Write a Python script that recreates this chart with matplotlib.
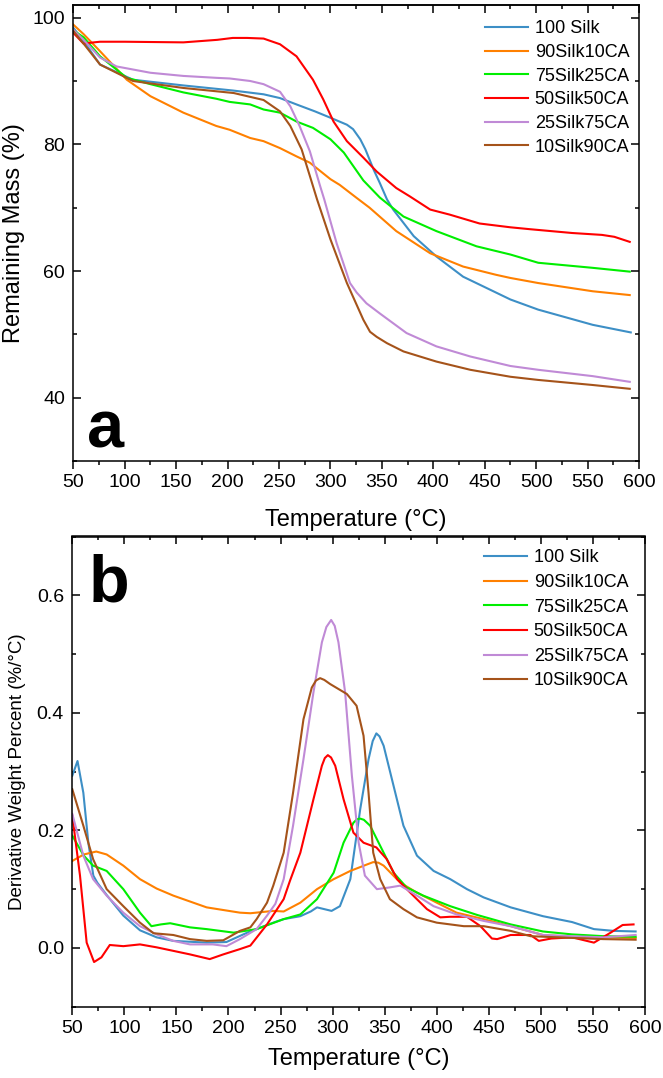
import matplotlib
matplotlib.use("Agg")
import matplotlib.pyplot as plt
from matplotlib.ticker import MultipleLocator
from matplotlib import font_manager

plt.rcParams['font.family'] = ['Liberation Sans', 'DejaVu Sans']

labels = ["100 Silk", "90Silk10CA", "75Silk25CA", "50Silk50CA", "25Silk75CA", "10Silk90CA"]
colors = ["#3d8fc6", "#ff8000", "#00ee00", "#ff0000", "#c08ad6", "#a5531a"]

# ---------------- panel a: TGA (remaining mass, %) ----------------
tga_T_silk = [50, 60, 76, 108, 157, 205, 235, 251, 267, 285, 300, 316, 322, 329, 334, 338, 342, 348, 355, 361, 381, 403, 429, 452, 475, 502, 555, 592]
tga_silk = [98.4, 96.3, 92.6, 90.2, 89.3, 88.5, 87.9, 87.3, 86.3, 85.2, 84.2, 83.1, 82.4, 80.8, 79.2, 77.6, 76.0, 73.9, 71.3, 69.7, 65.5, 62.3, 59.1, 57.3, 55.5, 53.9, 51.5, 50.3]

tga_T_90 = [50, 60, 76, 102, 125, 157, 189, 202, 222, 235, 251, 267, 280, 300, 309, 325, 338, 364, 397, 429, 461, 475, 502, 555, 591]
tga_90 = [98.9, 97.4, 94.7, 90.2, 87.6, 85.0, 82.9, 82.3, 81.0, 80.5, 79.4, 78.1, 77.1, 74.5, 73.6, 71.6, 70.0, 66.3, 62.8, 60.7, 59.4, 58.9, 58.1, 56.8, 56.2]

tga_T_75 = [50, 60, 76, 102, 125, 157, 189, 202, 222, 235, 251, 267, 283, 300, 313, 332, 348, 371, 403, 442, 475, 502, 555, 591]
tga_75 = [98.0, 96.9, 93.9, 90.5, 89.5, 88.2, 87.2, 86.7, 86.3, 85.5, 85.0, 83.6, 82.6, 80.8, 78.7, 74.3, 71.6, 68.6, 66.3, 63.9, 62.6, 61.3, 60.5, 59.9]

tga_T_50 = [50, 60, 70, 76, 100, 157, 190, 205, 219, 235, 251, 267, 283, 293, 303, 316, 332, 345, 364, 377, 397, 416, 445, 475, 494, 535, 564, 576, 591]
tga_50 = [97.6, 95.9, 96.1, 96.2, 96.2, 96.1, 96.5, 96.8, 96.8, 96.7, 95.8, 93.9, 90.2, 87.1, 83.6, 80.5, 77.9, 75.7, 73.1, 71.8, 69.7, 68.9, 67.5, 66.9, 66.6, 66.0, 65.7, 65.4, 64.6]

tga_T_25 = [50, 60, 76, 92, 125, 157, 189, 202, 222, 235, 251, 261, 270, 280, 290, 294, 306, 319, 325.5, 335, 348, 374, 403, 436, 475, 502, 555, 591]
tga_25 = [98.1, 96.5, 93.7, 92.3, 91.3, 90.8, 90.5, 90.4, 90.0, 89.5, 88.3, 86.0, 82.9, 78.9, 73.4, 71.3, 64.4, 58.1, 56.6, 54.9, 53.3, 50.2, 48.1, 46.5, 45.0, 44.4, 43.4, 42.5]

tga_T_10 = [50, 60, 76, 108, 157, 206, 235, 251, 261, 272, 280, 287, 300, 316, 332, 338.5, 345, 355, 371, 403, 436, 475, 502, 555, 591]
tga_10 = [97.9, 95.9, 92.6, 90.0, 88.9, 88.1, 87.0, 85.2, 82.9, 79.2, 75.0, 71.3, 65.0, 58.1, 52.3, 50.4, 49.6, 48.6, 47.3, 45.7, 44.4, 43.3, 42.8, 42.0, 41.4]

# ---------------- panel b: DTG (%/°C) ----------------
dtg_T_silk = [50, 55, 60.6, 65.4, 70.2, 74, 83, 99, 115, 131, 147, 179, 198, 218, 243, 253, 269, 279, 285, 292, 299, 307, 317, 326.5, 334.5, 338.5, 342, 345, 349, 358.5, 368, 381, 397, 413, 429, 445, 471, 502, 530, 551, 570, 591]
dtg_silk = [0.293, 0.318, 0.264, 0.179, 0.123, 0.111, 0.090, 0.055, 0.030, 0.018, 0.012, 0.009, 0.010, 0.026, 0.043, 0.049, 0.054, 0.062, 0.069, 0.066, 0.063, 0.071, 0.117, 0.236, 0.321, 0.352, 0.365, 0.360, 0.344, 0.276, 0.208, 0.157, 0.131, 0.117, 0.100, 0.086, 0.069, 0.054, 0.044, 0.032, 0.029, 0.028]

dtg_T_90 = [50, 61, 73, 83, 99, 115, 131, 147, 179, 211, 221, 243, 253, 269, 285, 301, 317, 333, 339, 344, 349, 365, 381, 400, 419, 445, 471, 502, 530, 560, 591]
dtg_90 = [0.148, 0.159, 0.164, 0.159, 0.140, 0.117, 0.101, 0.089, 0.069, 0.060, 0.059, 0.063, 0.062, 0.077, 0.100, 0.117, 0.131, 0.142, 0.146, 0.145, 0.140, 0.111, 0.094, 0.077, 0.060, 0.049, 0.037, 0.022, 0.019, 0.018, 0.017]

dtg_T_75 = [50, 61, 70, 83, 99, 115, 126, 135, 144, 163, 179, 205, 227, 253, 269, 285, 301, 310.5, 320, 323.5, 326.5, 330, 336, 349, 358.5, 371, 387, 413, 439, 471, 502, 530, 560, 591]
dtg_75 = [0.191, 0.157, 0.140, 0.131, 0.100, 0.060, 0.037, 0.040, 0.042, 0.035, 0.032, 0.026, 0.032, 0.049, 0.057, 0.083, 0.128, 0.179, 0.213, 0.219, 0.220, 0.218, 0.208, 0.162, 0.128, 0.103, 0.089, 0.071, 0.056, 0.040, 0.028, 0.023, 0.020, 0.019]

dtg_T_50 = [50, 57.4, 63.8, 70.9, 78, 86, 99, 115, 131, 147, 163, 182, 195, 211, 221, 237, 253, 259, 269, 281.6, 289.7, 292.5, 295.4, 298.5, 302.5, 310.5, 320, 329.7, 342, 352, 362, 374.6, 390.6, 403.4, 413, 429, 442, 453, 458, 471, 490, 498, 510, 530, 551, 567, 578.5, 589]
dtg_50 = [0.225, 0.123, 0.009, -0.024, -0.016, 0.005, 0.003, 0.006, 0.001, -0.005, -0.011, -0.019, -0.011, -0.002, 0.004, 0.040, 0.083, 0.114, 0.162, 0.253, 0.310, 0.323, 0.328, 0.324, 0.310, 0.253, 0.196, 0.179, 0.171, 0.151, 0.117, 0.094, 0.066, 0.052, 0.053, 0.053, 0.037, 0.016, 0.015, 0.022, 0.022, 0.012, 0.016, 0.018, 0.009, 0.026, 0.039, 0.040]

dtg_T_25 = [50, 60.6, 70, 83, 99, 115, 131, 147, 163, 185, 198, 211, 227, 237, 245, 253, 262, 272, 281.6, 289.7, 294, 298.6, 302, 305.6, 312, 318.5, 325, 331, 342.5, 355, 365, 381, 397, 419, 445, 471, 502, 530, 560, 591]
dtg_25 = [0.228, 0.157, 0.117, 0.089, 0.060, 0.037, 0.023, 0.012, 0.006, 0.006, 0.003, 0.015, 0.032, 0.055, 0.075, 0.117, 0.208, 0.321, 0.435, 0.520, 0.546, 0.558, 0.548, 0.520, 0.435, 0.293, 0.179, 0.123, 0.100, 0.103, 0.106, 0.089, 0.071, 0.057, 0.046, 0.037, 0.022, 0.020, 0.018, 0.022]

dtg_T_10 = [50, 60.6, 70, 83, 99, 115, 128, 147, 163, 179, 195, 211, 221, 227, 237, 243, 253, 262, 272, 280, 284, 288, 292, 297.6, 313.7, 323, 329.7, 334.5, 339, 345.7, 355, 368, 381, 400, 426, 445, 471, 490, 530, 560, 591]
dtg_10 = [0.270, 0.208, 0.151, 0.100, 0.071, 0.043, 0.025, 0.022, 0.015, 0.012, 0.013, 0.029, 0.035, 0.049, 0.077, 0.106, 0.162, 0.264, 0.389, 0.443, 0.455, 0.459, 0.456, 0.449, 0.432, 0.412, 0.361, 0.264, 0.162, 0.117, 0.083, 0.066, 0.052, 0.043, 0.037, 0.037, 0.029, 0.020, 0.017, 0.015, 0.014]

tga_series = [(tga_T_silk, tga_silk), (tga_T_90, tga_90), (tga_T_75, tga_75),
              (tga_T_50, tga_50), (tga_T_25, tga_25), (tga_T_10, tga_10)]
dtg_series = [(dtg_T_silk, dtg_silk), (dtg_T_90, dtg_90), (dtg_T_75, dtg_75),
              (dtg_T_50, dtg_50), (dtg_T_25, dtg_25), (dtg_T_10, dtg_10)]

W, H = 663, 1078
fig = plt.figure(figsize=(W / 100, H / 100), dpi=100)


def px_axes(l, r, t, b):
    return fig.add_axes([l / W, 1 - b / H, (r - l) / W, (b - t) / H])


ax1 = px_axes(73.3, 639, 5, 461)
ax2 = px_axes(72.3, 645, 536.5, 1006.7)


def style(ax, ymaj, ymin, xlabelpad):
    ax.set_xlim(50, 600)
    ax.xaxis.set_major_locator(MultipleLocator(50))
    ax.xaxis.set_minor_locator(MultipleLocator(25))
    ax.yaxis.set_major_locator(MultipleLocator(ymaj))
    ax.yaxis.set_minor_locator(MultipleLocator(ymin))
    ax.tick_params(axis='x', which='both', direction='out', bottom=True, top=False,
                   labelsize=14, pad=4, width=1.1)
    ax.tick_params(axis='y', which='both', direction='in', left=True, right=True,
                   labelsize=14, pad=6, width=1.1)
    ax.tick_params(which='major', length=5.5)
    ax.tick_params(which='minor', length=3.2)
    for s in ax.spines.values():
        s.set_linewidth(1.1)
    sec = ax.secondary_xaxis('top')
    sec.xaxis.set_major_locator(MultipleLocator(50))
    sec.xaxis.set_minor_locator(MultipleLocator(25))
    sec.tick_params(axis='x', which='both', direction='in', labeltop=False, width=1.1)
    sec.tick_params(which='major', length=5.5)
    sec.tick_params(which='minor', length=3.2)
    sec.spines['top'].set_linewidth(1.1)
    ax.set_xlabel("Temperature (°C)", fontsize=17, labelpad=xlabelpad)


for (T, v), c, lab in zip(tga_series, colors, labels):
    ax1.plot(T, v, color=c, lw=1.5, label=lab)
ax1.set_ylim(30, 102)
style(ax1, 20, 10, 12.5)
ax1.set_yticks([40, 60, 80, 100])
ax1.set_ylabel("Remaining Mass (%)", fontsize=17, labelpad=5)
fig.text(87 / W, 1 - 448 / H, "a", fontsize=48, fontweight='bold',
         ha='left', va='baseline')
ax1.legend(loc='upper left', bbox_to_anchor=(485 / W, 1 - 20.2 / H),
           bbox_transform=fig.transFigure, frameon=False, fontsize=13,
           handlelength=2.4, handletextpad=0.35, labelspacing=0.37,
           borderpad=0, borderaxespad=0)

for (T, v), c, lab in zip(dtg_series, colors, labels):
    ax2.plot(T, v, color=c, lw=1.5, label=lab)
ax2.set_ylim(-0.1, 0.7)
style(ax2, 0.2, 0.1, 8)
ax2.set_yticks([0.0, 0.2, 0.4, 0.6])

narrow = [f.name for f in font_manager.fontManager.ttflist if f.name == 'Liberation Sans Narrow']
if narrow:
    ax2.set_ylabel("Derivative Weight Percent (%/°C)", fontsize=16.5, labelpad=6,
                   family=['Liberation Sans Narrow', 'DejaVu Sans'])
else:
    ax2.set_ylabel("Derivative Weight Percent (%/°C)", fontsize=13.5, labelpad=8)
fig.text(89 / W, 1 - 601.7 / H, "b", fontsize=48, fontweight='bold',
         ha='left', va='baseline')
ax2.legend(loc='upper left', bbox_to_anchor=(484 / W, 1 - 549.5 / H),
           bbox_transform=fig.transFigure, frameon=False, fontsize=13,
           handlelength=2.4, handletextpad=0.35, labelspacing=0.42,
           borderpad=0, borderaxespad=0)

fig.savefig("out.png", dpi=100)
